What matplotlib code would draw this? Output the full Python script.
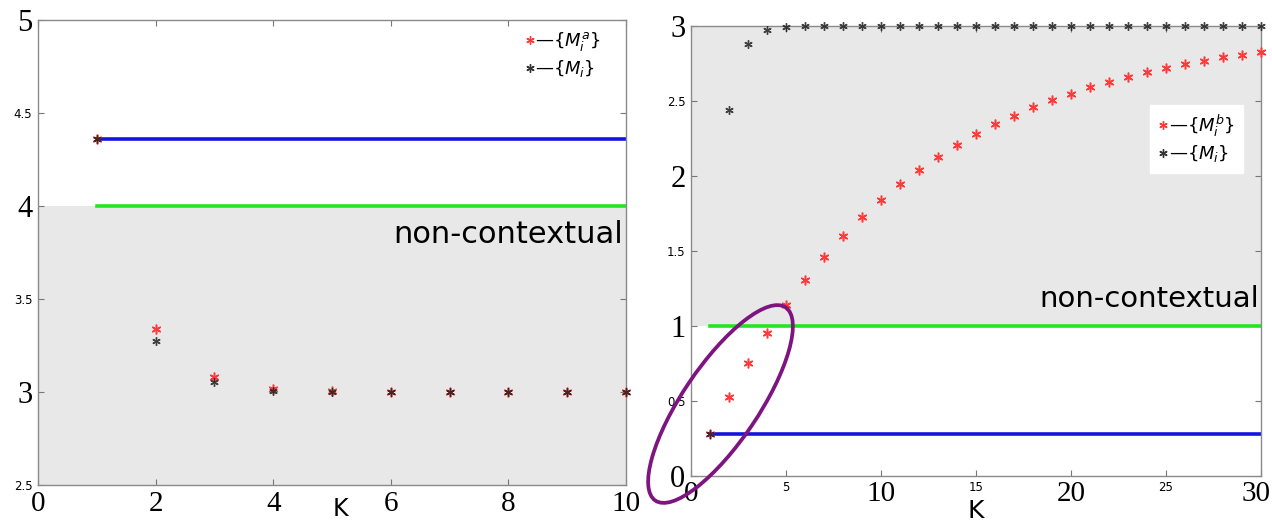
import numpy as np
import matplotlib
matplotlib.use("Agg")
import matplotlib.pyplot as plt
from matplotlib.patches import Ellipse
from matplotlib.lines import Line2D
from matplotlib.transforms import IdentityTransform, ScaledTranslation

# left panel: K = 1..10
k_left = np.arange(1, 11)
ma_left = [4.36, 3.34, 3.085, 3.018, 3.005, 3.0, 3.0, 3.0, 3.0, 3.0]
m_left = [4.36, 3.278, 3.056, 3.01, 3.003, 3.0, 3.0, 3.0, 3.0, 3.0]
blue_left = 4.36
green_left = 4.0

# right panel: K = 1..30
k_right = np.arange(1, 31)
mb_right = [0.28, 0.524, 0.748, 0.951, 1.137, 1.305, 1.457, 1.598, 1.722, 1.838,
            1.943, 2.037, 2.125, 2.205, 2.277, 2.342, 2.400, 2.456, 2.505, 2.548,
            2.590, 2.628, 2.660, 2.691, 2.720, 2.744, 2.767, 2.789, 2.807, 2.825]
m_right = [0.28, 2.438, 2.881, 2.973, 2.99] + [3.0] * 25
blue_right = 0.277
green_right = 1.0

left_xticks = [0, 2, 4, 6, 8, 10]
left_yticks = [2.5, 3, 3.5, 4, 4.5, 5]
right_xticks = [0, 5, 10, 15, 20, 25, 30]
right_yticks = [0, 0.5, 1, 1.5, 2, 2.5, 3]

GREY = '#e8e8e8'
RED = '#ff3a3a'
DARK = '#222222'
SERIF = 'Liberation Serif'
SANS = 'DejaVu Sans'
AST = (6, 2, 0)   # asterisk marker, like matlab '*'

fig = plt.figure(figsize=(12.72, 5.26), dpi=100)
ax1 = fig.add_axes([0.0299, 0.077, 0.4623, 0.885])
ax2 = fig.add_axes([0.5432, 0.096, 0.4481, 0.855])


def style_axis(ax, xt, yt, big_x):
    for s in ax.spines.values():
        s.set_color('#8a8a8a')
        s.set_linewidth(1.0)
    ax.tick_params(direction='in', top=True, right=True, length=4, color='#777777', pad=4)
    ax.set_xticks(xt)
    ax.set_yticks(yt)
    ax.set_xticklabels([str(v) for v in xt])
    ax.set_yticklabels([('%g' % v) for v in yt])
    # whole numbers are big serif, the rest small sans
    for lab, v in zip(ax.get_xticklabels(), xt):
        if v in big_x:
            lab.set_fontfamily(SERIF); lab.set_fontsize(21)
        else:
            lab.set_fontfamily(SANS); lab.set_fontsize(8.5)
    for lab, v in zip(ax.get_yticklabels(), yt):
        if float(v).is_integer():
            lab.set_fontfamily(SERIF); lab.set_fontsize(22)
        else:
            lab.set_fontfamily(SANS); lab.set_fontsize(8.5)


def stars(ax, k, a, b):
    ax.plot(k, a, ls='none', marker=AST, ms=7, mec=RED, mfc=RED, mew=1.1, clip_on=False, zorder=3)
    ax.plot(k, b, ls='none', marker=AST, ms=6, mec=DARK, mfc=DARK, mew=1.0, alpha=0.85, clip_on=False, zorder=3)


def handles():
    return [Line2D([], [], ls='none', marker=AST, mec=RED, mew=1.0, ms=6),
            Line2D([], [], ls='none', marker=AST, mec='#333333', mew=1.0, ms=6)]


# ---------------- left
ax1.set_xlim(0, 10)
ax1.set_ylim(2.5, 5)
ax1.axhspan(2.5, green_left, color=GREY, lw=0, zorder=0)
ax1.plot([1, 10], [blue_left, blue_left], color='#1414e0', lw=2.6, zorder=2)
ax1.plot([1, 10], [green_left, green_left], color='#22e622', lw=2.6, zorder=2)
stars(ax1, k_left, ma_left, m_left)
ax1.text(9.95, 3.85, 'non-contextual', ha='right', va='center', fontsize=22, family=SANS)
ax1.set_xlabel('K', fontsize=17, family=SANS)
ax1.xaxis.set_label_coords(0.514, -0.066)
ax1.xaxis.label.set_va('baseline')
ax1.legend(handles(), [r'—$\{M^{a}_{i}\}$', r'—$\{M_{i}\}$'], loc='upper right',
           bbox_to_anchor=(0.985, 1.012), frameon=False, fontsize=13,
           handlelength=0.6, handletextpad=0.0, labelspacing=0.25)
style_axis(ax1, left_xticks, left_yticks, left_xticks)

# ---------------- right
ax2.set_xlim(0, 30)
ax2.set_ylim(0, 3)
ax2.axhspan(green_right, 3, color=GREY, lw=0, zorder=0)
ax2.plot([1, 30], [blue_right, blue_right], color='#1414e0', lw=2.6, zorder=2)
ax2.plot([1, 30], [green_right, green_right], color='#22e622', lw=2.6, zorder=2)
stars(ax2, k_right, mb_right, m_right)
ax2.text(29.9, 1.18, 'non-contextual', ha='right', va='center', fontsize=21, family=SANS)
ax2.set_xlabel('K', fontsize=18, family=SANS, labelpad=-6)
leg = ax2.legend(handles(), [r'—$\{M^{b}_{i}\}$', r'—$\{M_{i}\}$'], loc='upper right',
                 bbox_to_anchor=(0.984, 0.845), frameon=True, fontsize=13,
                 handlelength=0.6, handletextpad=0.0, labelspacing=0.25,
                 fancybox=False, borderpad=0.45)
leg.get_frame().set_edgecolor('white')
leg.get_frame().set_facecolor('white')
leg.get_frame().set_alpha(1)
style_axis(ax2, right_xticks, right_yticks, [0, 10, 20, 30])
# keep the last tick label inside the canvas
last = ax2.get_xticklabels()[-1]
last.set_transform(last.get_transform() + ScaledTranslation(-5 / 100, 0, fig.dpi_scale_trans))

# purple ellipse around the first few points (pixel space)
ell = Ellipse((720.5, 526 - 404), width=233, height=76, angle=56,
              transform=IdentityTransform(), fill=False, edgecolor='#7d1480', lw=2.7)
fig.patches.append(ell)

fig.savefig('out.png', dpi=100)
